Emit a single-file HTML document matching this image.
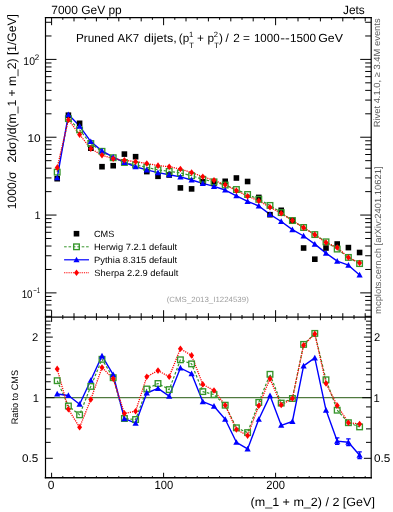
<!DOCTYPE html><html><head><meta charset="utf-8"><style>html,body{margin:0;padding:0;background:#fff;}svg{display:block;will-change:transform;}text{font-family:"Liberation Sans",sans-serif;text-rendering:geometricPrecision;}</style></head><body>
<svg width="393" height="512" viewBox="0 0 393 512">
<rect width="393" height="512" fill="#fff"/>
<defs><clipPath id="cm"><rect x="45.50" y="17.60" width="325.70" height="299.60"/></clipPath>
<clipPath id="cr"><rect x="45.50" y="317.20" width="325.70" height="160.55"/></clipPath></defs>
<polyline clip-path="url(#cm)" points="57.20,172.16 68.40,118.60 79.60,129.86 90.80,143.57 102.00,151.33 113.20,157.73 124.40,162.47 135.60,164.96 146.80,167.37 158.00,169.85 169.20,171.43 180.40,172.92 191.60,175.72 202.80,179.32 214.00,181.85 225.20,185.05 236.40,189.52 247.60,194.50 258.80,199.31 270.00,205.43 281.20,212.59 292.40,220.55 303.60,227.50 314.80,234.57 326.00,241.84 337.20,249.07 348.40,257.43 359.60,263.59" fill="none" stroke="#35952a" stroke-width="1.20" stroke-dasharray="2.6,1.8" stroke-linejoin="round"/>
<polyline clip-path="url(#cm)" points="57.20,177.78 68.40,114.57 79.60,126.11 90.80,141.54 102.00,150.97 113.20,157.13 124.40,162.31 135.60,166.73 146.80,169.94 158.00,172.65 169.20,174.69 180.40,176.86 191.60,179.96 202.80,183.32 214.00,186.39 225.20,190.03 236.40,195.77 247.60,201.45 258.80,205.98 270.00,214.34 281.20,221.49 292.40,229.60 303.60,236.00 314.80,244.11 326.00,253.10 337.20,261.19 348.40,265.17 359.60,274.92" fill="none" stroke="#0000ff" stroke-width="1.40" stroke-linejoin="round"/>
<polyline clip-path="url(#cm)" points="57.20,167.63 68.40,119.79 79.60,134.62 90.80,148.65 102.00,155.26 113.20,158.68 124.40,160.29 135.60,161.68 146.80,163.44 158.00,165.66 169.20,166.69 180.40,169.05 191.60,172.57 202.80,176.68 214.00,180.31 225.20,184.80 236.40,190.65 247.60,196.23 258.80,200.72 270.00,207.28 281.20,213.31 292.40,220.55 303.60,227.65 314.80,234.67 326.00,242.54 337.20,247.51 348.40,257.43 359.60,263.03" fill="none" stroke="#ff0000" stroke-width="1.30" stroke-dasharray="1.2,1.0" stroke-linejoin="round"/>
<rect x="54.40" y="175.90" width="5.60" height="5.60" fill="#000"/>
<rect x="65.60" y="112.40" width="5.60" height="5.60" fill="#000"/>
<rect x="76.80" y="120.50" width="5.60" height="5.60" fill="#000"/>
<rect x="88.00" y="145.40" width="5.60" height="5.60" fill="#000"/>
<rect x="99.20" y="163.90" width="5.60" height="5.60" fill="#000"/>
<rect x="110.40" y="162.90" width="5.60" height="5.60" fill="#000"/>
<rect x="121.60" y="151.30" width="5.60" height="5.60" fill="#000"/>
<rect x="132.80" y="153.90" width="5.60" height="5.60" fill="#000"/>
<rect x="144.00" y="168.80" width="5.60" height="5.60" fill="#000"/>
<rect x="155.20" y="173.50" width="5.60" height="5.60" fill="#000"/>
<rect x="166.40" y="172.20" width="5.60" height="5.60" fill="#000"/>
<rect x="177.60" y="185.10" width="5.60" height="5.60" fill="#000"/>
<rect x="188.80" y="186.10" width="5.60" height="5.60" fill="#000"/>
<rect x="200.00" y="179.00" width="5.60" height="5.60" fill="#000"/>
<rect x="211.20" y="180.30" width="5.60" height="5.60" fill="#000"/>
<rect x="222.40" y="178.50" width="5.60" height="5.60" fill="#000"/>
<rect x="233.60" y="175.20" width="5.60" height="5.60" fill="#000"/>
<rect x="244.80" y="178.70" width="5.60" height="5.60" fill="#000"/>
<rect x="256.00" y="194.60" width="5.60" height="5.60" fill="#000"/>
<rect x="267.20" y="211.90" width="5.60" height="5.60" fill="#000"/>
<rect x="278.40" y="207.50" width="5.60" height="5.60" fill="#000"/>
<rect x="289.60" y="217.60" width="5.60" height="5.60" fill="#000"/>
<rect x="300.80" y="245.20" width="5.60" height="5.60" fill="#000"/>
<rect x="312.00" y="256.40" width="5.60" height="5.60" fill="#000"/>
<rect x="323.20" y="245.20" width="5.60" height="5.60" fill="#000"/>
<rect x="334.40" y="241.20" width="5.60" height="5.60" fill="#000"/>
<rect x="345.60" y="244.80" width="5.60" height="5.60" fill="#000"/>
<rect x="356.80" y="249.70" width="5.60" height="5.60" fill="#000"/>
<rect x="54.40" y="169.36" width="5.60" height="5.60" fill="none" stroke="#35952a" stroke-width="1.35"/>
<rect x="65.60" y="115.80" width="5.60" height="5.60" fill="none" stroke="#35952a" stroke-width="1.35"/>
<rect x="76.80" y="127.06" width="5.60" height="5.60" fill="none" stroke="#35952a" stroke-width="1.35"/>
<rect x="88.00" y="140.77" width="5.60" height="5.60" fill="none" stroke="#35952a" stroke-width="1.35"/>
<rect x="99.20" y="148.53" width="5.60" height="5.60" fill="none" stroke="#35952a" stroke-width="1.35"/>
<rect x="110.40" y="154.93" width="5.60" height="5.60" fill="none" stroke="#35952a" stroke-width="1.35"/>
<rect x="121.60" y="159.67" width="5.60" height="5.60" fill="none" stroke="#35952a" stroke-width="1.35"/>
<rect x="132.80" y="162.16" width="5.60" height="5.60" fill="none" stroke="#35952a" stroke-width="1.35"/>
<rect x="144.00" y="164.57" width="5.60" height="5.60" fill="none" stroke="#35952a" stroke-width="1.35"/>
<rect x="155.20" y="167.05" width="5.60" height="5.60" fill="none" stroke="#35952a" stroke-width="1.35"/>
<rect x="166.40" y="168.63" width="5.60" height="5.60" fill="none" stroke="#35952a" stroke-width="1.35"/>
<rect x="177.60" y="170.12" width="5.60" height="5.60" fill="none" stroke="#35952a" stroke-width="1.35"/>
<rect x="188.80" y="172.92" width="5.60" height="5.60" fill="none" stroke="#35952a" stroke-width="1.35"/>
<rect x="200.00" y="176.52" width="5.60" height="5.60" fill="none" stroke="#35952a" stroke-width="1.35"/>
<rect x="211.20" y="179.05" width="5.60" height="5.60" fill="none" stroke="#35952a" stroke-width="1.35"/>
<rect x="222.40" y="182.25" width="5.60" height="5.60" fill="none" stroke="#35952a" stroke-width="1.35"/>
<rect x="233.60" y="186.72" width="5.60" height="5.60" fill="none" stroke="#35952a" stroke-width="1.35"/>
<rect x="244.80" y="191.70" width="5.60" height="5.60" fill="none" stroke="#35952a" stroke-width="1.35"/>
<rect x="256.00" y="196.51" width="5.60" height="5.60" fill="none" stroke="#35952a" stroke-width="1.35"/>
<rect x="267.20" y="202.63" width="5.60" height="5.60" fill="none" stroke="#35952a" stroke-width="1.35"/>
<rect x="278.40" y="209.79" width="5.60" height="5.60" fill="none" stroke="#35952a" stroke-width="1.35"/>
<rect x="289.60" y="217.75" width="5.60" height="5.60" fill="none" stroke="#35952a" stroke-width="1.35"/>
<rect x="300.80" y="224.70" width="5.60" height="5.60" fill="none" stroke="#35952a" stroke-width="1.35"/>
<rect x="312.00" y="231.77" width="5.60" height="5.60" fill="none" stroke="#35952a" stroke-width="1.35"/>
<rect x="323.20" y="239.04" width="5.60" height="5.60" fill="none" stroke="#35952a" stroke-width="1.35"/>
<rect x="334.40" y="246.27" width="5.60" height="5.60" fill="none" stroke="#35952a" stroke-width="1.35"/>
<rect x="345.60" y="254.63" width="5.60" height="5.60" fill="none" stroke="#35952a" stroke-width="1.35"/>
<rect x="356.80" y="260.79" width="5.60" height="5.60" fill="none" stroke="#35952a" stroke-width="1.35"/>
<path d="M57.20 174.65L60.30 180.35L54.10 180.35Z" fill="#0000ff"/>
<path d="M68.40 111.44L71.50 117.14L65.30 117.14Z" fill="#0000ff"/>
<path d="M79.60 122.97L82.70 128.67L76.50 128.67Z" fill="#0000ff"/>
<path d="M90.80 138.40L93.90 144.10L87.70 144.10Z" fill="#0000ff"/>
<path d="M102.00 147.83L105.10 153.54L98.90 153.54Z" fill="#0000ff"/>
<path d="M113.20 154.00L116.30 159.70L110.10 159.70Z" fill="#0000ff"/>
<path d="M124.40 159.17L127.50 164.88L121.30 164.88Z" fill="#0000ff"/>
<path d="M135.60 163.59L138.70 169.30L132.50 169.30Z" fill="#0000ff"/>
<path d="M146.80 166.80L149.90 172.51L143.70 172.51Z" fill="#0000ff"/>
<path d="M158.00 169.51L161.10 175.22L154.90 175.22Z" fill="#0000ff"/>
<path d="M169.20 171.55L172.30 177.26L166.10 177.26Z" fill="#0000ff"/>
<path d="M180.40 173.72L183.50 179.43L177.30 179.43Z" fill="#0000ff"/>
<path d="M191.60 176.82L194.70 182.53L188.50 182.53Z" fill="#0000ff"/>
<path d="M202.80 180.19L205.90 185.89L199.70 185.89Z" fill="#0000ff"/>
<path d="M214.00 183.26L217.10 188.96L210.90 188.96Z" fill="#0000ff"/>
<path d="M225.20 186.89L228.30 192.59L222.10 192.59Z" fill="#0000ff"/>
<path d="M236.40 192.63L239.50 198.34L233.30 198.34Z" fill="#0000ff"/>
<path d="M247.60 198.31L250.70 204.01L244.50 204.01Z" fill="#0000ff"/>
<path d="M258.80 202.84L261.90 208.54L255.70 208.54Z" fill="#0000ff"/>
<path d="M270.00 211.21L273.10 216.91L266.90 216.91Z" fill="#0000ff"/>
<path d="M281.20 218.35L284.30 224.05L278.10 224.05Z" fill="#0000ff"/>
<path d="M292.40 226.46L295.50 232.17L289.30 232.17Z" fill="#0000ff"/>
<path d="M303.60 232.87L306.70 238.57L300.50 238.57Z" fill="#0000ff"/>
<path d="M314.80 240.97L317.90 246.67L311.70 246.67Z" fill="#0000ff"/>
<path d="M326.00 249.96L329.10 255.66L322.90 255.66Z" fill="#0000ff"/>
<path d="M337.20 258.05L340.30 263.76L334.10 263.76Z" fill="#0000ff"/>
<path d="M348.40 262.03L351.50 267.74L345.30 267.74Z" fill="#0000ff"/>
<path d="M359.60 271.78L362.70 277.48L356.50 277.48Z" fill="#0000ff"/>
<path d="M57.20 164.33L59.70 167.63L57.20 170.93L54.70 167.63Z" fill="#ff0000"/>
<path d="M68.40 116.49L70.90 119.79L68.40 123.09L65.90 119.79Z" fill="#ff0000"/>
<path d="M79.60 131.32L82.10 134.62L79.60 137.92L77.10 134.62Z" fill="#ff0000"/>
<path d="M90.80 145.35L93.30 148.65L90.80 151.95L88.30 148.65Z" fill="#ff0000"/>
<path d="M102.00 151.96L104.50 155.26L102.00 158.56L99.50 155.26Z" fill="#ff0000"/>
<path d="M113.20 155.38L115.70 158.68L113.20 161.98L110.70 158.68Z" fill="#ff0000"/>
<path d="M124.40 156.99L126.90 160.29L124.40 163.59L121.90 160.29Z" fill="#ff0000"/>
<path d="M135.60 158.38L138.10 161.68L135.60 164.98L133.10 161.68Z" fill="#ff0000"/>
<path d="M146.80 160.14L149.30 163.44L146.80 166.74L144.30 163.44Z" fill="#ff0000"/>
<path d="M158.00 162.36L160.50 165.66L158.00 168.96L155.50 165.66Z" fill="#ff0000"/>
<path d="M169.20 163.39L171.70 166.69L169.20 169.99L166.70 166.69Z" fill="#ff0000"/>
<path d="M180.40 165.75L182.90 169.05L180.40 172.35L177.90 169.05Z" fill="#ff0000"/>
<path d="M191.60 169.27L194.10 172.57L191.60 175.87L189.10 172.57Z" fill="#ff0000"/>
<path d="M202.80 173.38L205.30 176.68L202.80 179.98L200.30 176.68Z" fill="#ff0000"/>
<path d="M214.00 177.01L216.50 180.31L214.00 183.61L211.50 180.31Z" fill="#ff0000"/>
<path d="M225.20 181.50L227.70 184.80L225.20 188.10L222.70 184.80Z" fill="#ff0000"/>
<path d="M236.40 187.35L238.90 190.65L236.40 193.95L233.90 190.65Z" fill="#ff0000"/>
<path d="M247.60 192.93L250.10 196.23L247.60 199.53L245.10 196.23Z" fill="#ff0000"/>
<path d="M258.80 197.42L261.30 200.72L258.80 204.02L256.30 200.72Z" fill="#ff0000"/>
<path d="M270.00 203.98L272.50 207.28L270.00 210.58L267.50 207.28Z" fill="#ff0000"/>
<path d="M281.20 210.01L283.70 213.31L281.20 216.61L278.70 213.31Z" fill="#ff0000"/>
<path d="M292.40 217.25L294.90 220.55L292.40 223.85L289.90 220.55Z" fill="#ff0000"/>
<path d="M303.60 224.35L306.10 227.65L303.60 230.95L301.10 227.65Z" fill="#ff0000"/>
<path d="M314.80 231.37L317.30 234.67L314.80 237.97L312.30 234.67Z" fill="#ff0000"/>
<path d="M326.00 239.24L328.50 242.54L326.00 245.84L323.50 242.54Z" fill="#ff0000"/>
<path d="M337.20 244.21L339.70 247.51L337.20 250.81L334.70 247.51Z" fill="#ff0000"/>
<path d="M348.40 254.13L350.90 257.43L348.40 260.73L345.90 257.43Z" fill="#ff0000"/>
<path d="M359.60 259.73L362.10 263.03L359.60 266.33L357.10 263.03Z" fill="#ff0000"/>
<line x1="45.50" y1="397.70" x2="371.20" y2="397.70" stroke="#4f7a3f" stroke-width="1.3"/>
<polyline clip-path="url(#cr)" points="57.20,380.70 68.40,406.00 79.60,414.80 90.80,386.40 102.00,359.30 113.20,377.70 124.40,418.50 135.60,419.50 146.80,389.00 158.00,383.50 169.20,389.60 180.40,359.80 191.60,363.90 202.80,391.60 214.00,394.60 225.20,405.20 236.40,427.80 247.60,432.60 258.80,402.40 270.00,374.30 281.20,403.10 292.40,398.50 303.60,344.40 314.80,333.40 326.00,379.80 337.20,410.20 348.40,422.70 359.60,426.90" fill="none" stroke="#35952a" stroke-width="1.20" stroke-dasharray="2.6,1.8" stroke-linejoin="round"/>
<polyline clip-path="url(#cr)" points="57.20,394.00 68.40,395.50 79.60,404.20 90.80,380.30 102.00,355.90 113.20,374.60 124.40,418.70 135.60,423.20 146.80,393.00 158.00,388.40 169.20,396.10 180.40,368.00 191.60,373.70 202.80,401.70 214.00,406.20 225.20,419.30 236.40,442.30 247.60,448.90 258.80,419.30 270.00,395.60 281.20,425.30 292.40,421.50 303.60,365.90 314.80,357.90 326.00,410.10 337.20,441.10 348.40,442.30 359.60,455.20" fill="none" stroke="#0000ff" stroke-width="1.40" stroke-linejoin="round"/>
<polyline clip-path="url(#cr)" points="57.20,368.90 68.40,409.30 79.60,427.30 90.80,399.50 102.00,367.50 113.20,378.70 124.40,413.40 135.60,411.30 146.80,376.70 158.00,370.60 169.20,376.70 180.40,348.80 191.60,355.40 202.80,384.40 214.00,390.50 225.20,405.20 236.40,429.50 247.60,435.60 258.80,405.80 270.00,378.70 281.20,405.00 292.40,398.50 303.60,345.20 314.80,333.90 326.00,383.40 337.20,405.50 348.40,422.70 359.60,424.00" fill="none" stroke="#ff0000" stroke-width="1.30" stroke-dasharray="1.2,1.0" stroke-linejoin="round"/>
<rect x="54.40" y="377.90" width="5.60" height="5.60" fill="none" stroke="#35952a" stroke-width="1.35"/>
<rect x="65.60" y="403.20" width="5.60" height="5.60" fill="none" stroke="#35952a" stroke-width="1.35"/>
<rect x="76.80" y="412.00" width="5.60" height="5.60" fill="none" stroke="#35952a" stroke-width="1.35"/>
<rect x="88.00" y="383.60" width="5.60" height="5.60" fill="none" stroke="#35952a" stroke-width="1.35"/>
<rect x="99.20" y="356.50" width="5.60" height="5.60" fill="none" stroke="#35952a" stroke-width="1.35"/>
<rect x="110.40" y="374.90" width="5.60" height="5.60" fill="none" stroke="#35952a" stroke-width="1.35"/>
<rect x="121.60" y="415.70" width="5.60" height="5.60" fill="none" stroke="#35952a" stroke-width="1.35"/>
<rect x="132.80" y="416.70" width="5.60" height="5.60" fill="none" stroke="#35952a" stroke-width="1.35"/>
<rect x="144.00" y="386.20" width="5.60" height="5.60" fill="none" stroke="#35952a" stroke-width="1.35"/>
<rect x="155.20" y="380.70" width="5.60" height="5.60" fill="none" stroke="#35952a" stroke-width="1.35"/>
<rect x="166.40" y="386.80" width="5.60" height="5.60" fill="none" stroke="#35952a" stroke-width="1.35"/>
<rect x="177.60" y="357.00" width="5.60" height="5.60" fill="none" stroke="#35952a" stroke-width="1.35"/>
<rect x="188.80" y="361.10" width="5.60" height="5.60" fill="none" stroke="#35952a" stroke-width="1.35"/>
<rect x="200.00" y="388.80" width="5.60" height="5.60" fill="none" stroke="#35952a" stroke-width="1.35"/>
<rect x="211.20" y="391.80" width="5.60" height="5.60" fill="none" stroke="#35952a" stroke-width="1.35"/>
<rect x="222.40" y="402.40" width="5.60" height="5.60" fill="none" stroke="#35952a" stroke-width="1.35"/>
<rect x="233.60" y="425.00" width="5.60" height="5.60" fill="none" stroke="#35952a" stroke-width="1.35"/>
<rect x="244.80" y="429.80" width="5.60" height="5.60" fill="none" stroke="#35952a" stroke-width="1.35"/>
<rect x="256.00" y="399.60" width="5.60" height="5.60" fill="none" stroke="#35952a" stroke-width="1.35"/>
<rect x="267.20" y="371.50" width="5.60" height="5.60" fill="none" stroke="#35952a" stroke-width="1.35"/>
<rect x="278.40" y="400.30" width="5.60" height="5.60" fill="none" stroke="#35952a" stroke-width="1.35"/>
<rect x="289.60" y="395.70" width="5.60" height="5.60" fill="none" stroke="#35952a" stroke-width="1.35"/>
<rect x="300.80" y="341.60" width="5.60" height="5.60" fill="none" stroke="#35952a" stroke-width="1.35"/>
<rect x="312.00" y="330.60" width="5.60" height="5.60" fill="none" stroke="#35952a" stroke-width="1.35"/>
<rect x="323.20" y="377.00" width="5.60" height="5.60" fill="none" stroke="#35952a" stroke-width="1.35"/>
<rect x="334.40" y="407.40" width="5.60" height="5.60" fill="none" stroke="#35952a" stroke-width="1.35"/>
<rect x="345.60" y="419.90" width="5.60" height="5.60" fill="none" stroke="#35952a" stroke-width="1.35"/>
<rect x="356.80" y="424.10" width="5.60" height="5.60" fill="none" stroke="#35952a" stroke-width="1.35"/>
<path d="M57.20 390.86L60.30 396.57L54.10 396.57Z" fill="#0000ff"/>
<path d="M68.40 392.36L71.50 398.07L65.30 398.07Z" fill="#0000ff"/>
<path d="M79.60 401.06L82.70 406.77L76.50 406.77Z" fill="#0000ff"/>
<path d="M90.80 377.16L93.90 382.87L87.70 382.87Z" fill="#0000ff"/>
<path d="M102.00 352.76L105.10 358.47L98.90 358.47Z" fill="#0000ff"/>
<path d="M113.20 371.46L116.30 377.17L110.10 377.17Z" fill="#0000ff"/>
<path d="M124.40 415.56L127.50 421.27L121.30 421.27Z" fill="#0000ff"/>
<path d="M135.60 420.06L138.70 425.77L132.50 425.77Z" fill="#0000ff"/>
<path d="M146.80 389.86L149.90 395.57L143.70 395.57Z" fill="#0000ff"/>
<path d="M158.00 385.26L161.10 390.97L154.90 390.97Z" fill="#0000ff"/>
<path d="M169.20 392.96L172.30 398.67L166.10 398.67Z" fill="#0000ff"/>
<path d="M180.40 364.86L183.50 370.57L177.30 370.57Z" fill="#0000ff"/>
<path d="M191.60 370.56L194.70 376.27L188.50 376.27Z" fill="#0000ff"/>
<path d="M202.80 398.56L205.90 404.27L199.70 404.27Z" fill="#0000ff"/>
<path d="M214.00 403.06L217.10 408.77L210.90 408.77Z" fill="#0000ff"/>
<path d="M225.20 416.16L228.30 421.87L222.10 421.87Z" fill="#0000ff"/>
<path d="M236.40 439.16L239.50 444.87L233.30 444.87Z" fill="#0000ff"/>
<path d="M247.60 445.76L250.70 451.47L244.50 451.47Z" fill="#0000ff"/>
<path d="M258.80 416.16L261.90 421.87L255.70 421.87Z" fill="#0000ff"/>
<path d="M270.00 392.46L273.10 398.17L266.90 398.17Z" fill="#0000ff"/>
<path d="M281.20 422.16L284.30 427.87L278.10 427.87Z" fill="#0000ff"/>
<path d="M292.40 418.36L295.50 424.07L289.30 424.07Z" fill="#0000ff"/>
<path d="M303.60 362.76L306.70 368.47L300.50 368.47Z" fill="#0000ff"/>
<path d="M314.80 354.76L317.90 360.47L311.70 360.47Z" fill="#0000ff"/>
<path d="M326.00 406.96L329.10 412.67L322.90 412.67Z" fill="#0000ff"/>
<path d="M337.20 437.90V444.30M335.00 437.90H339.40M335.00 444.30H339.40" stroke="#0000ff" stroke-width="1.2" fill="none"/>
<path d="M337.20 437.96L340.30 443.67L334.10 443.67Z" fill="#0000ff"/>
<path d="M348.40 438.90V445.70M346.20 438.90H350.60M346.20 445.70H350.60" stroke="#0000ff" stroke-width="1.2" fill="none"/>
<path d="M348.40 439.16L351.50 444.87L345.30 444.87Z" fill="#0000ff"/>
<path d="M359.60 451.80V458.60M357.40 451.80H361.80M357.40 458.60H361.80" stroke="#0000ff" stroke-width="1.2" fill="none"/>
<path d="M359.60 452.06L362.70 457.77L356.50 457.77Z" fill="#0000ff"/>
<path d="M57.20 365.60L59.70 368.90L57.20 372.20L54.70 368.90Z" fill="#ff0000"/>
<path d="M68.40 406.00L70.90 409.30L68.40 412.60L65.90 409.30Z" fill="#ff0000"/>
<path d="M79.60 424.00L82.10 427.30L79.60 430.60L77.10 427.30Z" fill="#ff0000"/>
<path d="M90.80 396.20L93.30 399.50L90.80 402.80L88.30 399.50Z" fill="#ff0000"/>
<path d="M102.00 364.20L104.50 367.50L102.00 370.80L99.50 367.50Z" fill="#ff0000"/>
<path d="M113.20 375.40L115.70 378.70L113.20 382.00L110.70 378.70Z" fill="#ff0000"/>
<path d="M124.40 410.10L126.90 413.40L124.40 416.70L121.90 413.40Z" fill="#ff0000"/>
<path d="M135.60 408.00L138.10 411.30L135.60 414.60L133.10 411.30Z" fill="#ff0000"/>
<path d="M146.80 373.40L149.30 376.70L146.80 380.00L144.30 376.70Z" fill="#ff0000"/>
<path d="M158.00 367.30L160.50 370.60L158.00 373.90L155.50 370.60Z" fill="#ff0000"/>
<path d="M169.20 373.40L171.70 376.70L169.20 380.00L166.70 376.70Z" fill="#ff0000"/>
<path d="M180.40 345.50L182.90 348.80L180.40 352.10L177.90 348.80Z" fill="#ff0000"/>
<path d="M191.60 352.10L194.10 355.40L191.60 358.70L189.10 355.40Z" fill="#ff0000"/>
<path d="M202.80 381.10L205.30 384.40L202.80 387.70L200.30 384.40Z" fill="#ff0000"/>
<path d="M214.00 387.20L216.50 390.50L214.00 393.80L211.50 390.50Z" fill="#ff0000"/>
<path d="M225.20 401.90L227.70 405.20L225.20 408.50L222.70 405.20Z" fill="#ff0000"/>
<path d="M236.40 426.20L238.90 429.50L236.40 432.80L233.90 429.50Z" fill="#ff0000"/>
<path d="M247.60 432.30L250.10 435.60L247.60 438.90L245.10 435.60Z" fill="#ff0000"/>
<path d="M258.80 402.50L261.30 405.80L258.80 409.10L256.30 405.80Z" fill="#ff0000"/>
<path d="M270.00 375.40L272.50 378.70L270.00 382.00L267.50 378.70Z" fill="#ff0000"/>
<path d="M281.20 401.70L283.70 405.00L281.20 408.30L278.70 405.00Z" fill="#ff0000"/>
<path d="M292.40 395.20L294.90 398.50L292.40 401.80L289.90 398.50Z" fill="#ff0000"/>
<path d="M303.60 341.90L306.10 345.20L303.60 348.50L301.10 345.20Z" fill="#ff0000"/>
<path d="M314.80 330.60L317.30 333.90L314.80 337.20L312.30 333.90Z" fill="#ff0000"/>
<path d="M326.00 380.10L328.50 383.40L326.00 386.70L323.50 383.40Z" fill="#ff0000"/>
<path d="M337.20 402.20L339.70 405.50L337.20 408.80L334.70 405.50Z" fill="#ff0000"/>
<path d="M348.40 419.40L350.90 422.70L348.40 426.00L345.90 422.70Z" fill="#ff0000"/>
<path d="M359.60 420.70L362.10 424.00L359.60 427.30L357.10 424.00Z" fill="#ff0000"/>
<line x1="45.50" y1="316.32" x2="51.50" y2="316.32" stroke="#000" stroke-width="1.00"/>
<line x1="371.20" y1="316.32" x2="365.20" y2="316.32" stroke="#000" stroke-width="1.00"/>
<line x1="45.50" y1="310.16" x2="51.50" y2="310.16" stroke="#000" stroke-width="1.00"/>
<line x1="371.20" y1="310.16" x2="365.20" y2="310.16" stroke="#000" stroke-width="1.00"/>
<line x1="45.50" y1="304.95" x2="51.50" y2="304.95" stroke="#000" stroke-width="1.00"/>
<line x1="371.20" y1="304.95" x2="365.20" y2="304.95" stroke="#000" stroke-width="1.00"/>
<line x1="45.50" y1="300.43" x2="51.50" y2="300.43" stroke="#000" stroke-width="1.00"/>
<line x1="371.20" y1="300.43" x2="365.20" y2="300.43" stroke="#000" stroke-width="1.00"/>
<line x1="45.50" y1="296.45" x2="51.50" y2="296.45" stroke="#000" stroke-width="1.00"/>
<line x1="371.20" y1="296.45" x2="365.20" y2="296.45" stroke="#000" stroke-width="1.00"/>
<line x1="45.50" y1="292.89" x2="56.50" y2="292.89" stroke="#000" stroke-width="1.00"/>
<line x1="371.20" y1="292.89" x2="360.20" y2="292.89" stroke="#000" stroke-width="1.00"/>
<line x1="45.50" y1="269.46" x2="51.50" y2="269.46" stroke="#000" stroke-width="1.00"/>
<line x1="371.20" y1="269.46" x2="365.20" y2="269.46" stroke="#000" stroke-width="1.00"/>
<line x1="45.50" y1="255.76" x2="51.50" y2="255.76" stroke="#000" stroke-width="1.00"/>
<line x1="371.20" y1="255.76" x2="365.20" y2="255.76" stroke="#000" stroke-width="1.00"/>
<line x1="45.50" y1="246.03" x2="51.50" y2="246.03" stroke="#000" stroke-width="1.00"/>
<line x1="371.20" y1="246.03" x2="365.20" y2="246.03" stroke="#000" stroke-width="1.00"/>
<line x1="45.50" y1="238.49" x2="51.50" y2="238.49" stroke="#000" stroke-width="1.00"/>
<line x1="371.20" y1="238.49" x2="365.20" y2="238.49" stroke="#000" stroke-width="1.00"/>
<line x1="45.50" y1="232.33" x2="51.50" y2="232.33" stroke="#000" stroke-width="1.00"/>
<line x1="371.20" y1="232.33" x2="365.20" y2="232.33" stroke="#000" stroke-width="1.00"/>
<line x1="45.50" y1="227.12" x2="51.50" y2="227.12" stroke="#000" stroke-width="1.00"/>
<line x1="371.20" y1="227.12" x2="365.20" y2="227.12" stroke="#000" stroke-width="1.00"/>
<line x1="45.50" y1="222.60" x2="51.50" y2="222.60" stroke="#000" stroke-width="1.00"/>
<line x1="371.20" y1="222.60" x2="365.20" y2="222.60" stroke="#000" stroke-width="1.00"/>
<line x1="45.50" y1="218.62" x2="51.50" y2="218.62" stroke="#000" stroke-width="1.00"/>
<line x1="371.20" y1="218.62" x2="365.20" y2="218.62" stroke="#000" stroke-width="1.00"/>
<line x1="45.50" y1="215.06" x2="56.50" y2="215.06" stroke="#000" stroke-width="1.00"/>
<line x1="371.20" y1="215.06" x2="360.20" y2="215.06" stroke="#000" stroke-width="1.00"/>
<line x1="45.50" y1="191.63" x2="51.50" y2="191.63" stroke="#000" stroke-width="1.00"/>
<line x1="371.20" y1="191.63" x2="365.20" y2="191.63" stroke="#000" stroke-width="1.00"/>
<line x1="45.50" y1="177.93" x2="51.50" y2="177.93" stroke="#000" stroke-width="1.00"/>
<line x1="371.20" y1="177.93" x2="365.20" y2="177.93" stroke="#000" stroke-width="1.00"/>
<line x1="45.50" y1="168.20" x2="51.50" y2="168.20" stroke="#000" stroke-width="1.00"/>
<line x1="371.20" y1="168.20" x2="365.20" y2="168.20" stroke="#000" stroke-width="1.00"/>
<line x1="45.50" y1="160.66" x2="51.50" y2="160.66" stroke="#000" stroke-width="1.00"/>
<line x1="371.20" y1="160.66" x2="365.20" y2="160.66" stroke="#000" stroke-width="1.00"/>
<line x1="45.50" y1="154.50" x2="51.50" y2="154.50" stroke="#000" stroke-width="1.00"/>
<line x1="371.20" y1="154.50" x2="365.20" y2="154.50" stroke="#000" stroke-width="1.00"/>
<line x1="45.50" y1="149.29" x2="51.50" y2="149.29" stroke="#000" stroke-width="1.00"/>
<line x1="371.20" y1="149.29" x2="365.20" y2="149.29" stroke="#000" stroke-width="1.00"/>
<line x1="45.50" y1="144.77" x2="51.50" y2="144.77" stroke="#000" stroke-width="1.00"/>
<line x1="371.20" y1="144.77" x2="365.20" y2="144.77" stroke="#000" stroke-width="1.00"/>
<line x1="45.50" y1="140.79" x2="51.50" y2="140.79" stroke="#000" stroke-width="1.00"/>
<line x1="371.20" y1="140.79" x2="365.20" y2="140.79" stroke="#000" stroke-width="1.00"/>
<line x1="45.50" y1="137.23" x2="56.50" y2="137.23" stroke="#000" stroke-width="1.00"/>
<line x1="371.20" y1="137.23" x2="360.20" y2="137.23" stroke="#000" stroke-width="1.00"/>
<line x1="45.50" y1="113.80" x2="51.50" y2="113.80" stroke="#000" stroke-width="1.00"/>
<line x1="371.20" y1="113.80" x2="365.20" y2="113.80" stroke="#000" stroke-width="1.00"/>
<line x1="45.50" y1="100.10" x2="51.50" y2="100.10" stroke="#000" stroke-width="1.00"/>
<line x1="371.20" y1="100.10" x2="365.20" y2="100.10" stroke="#000" stroke-width="1.00"/>
<line x1="45.50" y1="90.37" x2="51.50" y2="90.37" stroke="#000" stroke-width="1.00"/>
<line x1="371.20" y1="90.37" x2="365.20" y2="90.37" stroke="#000" stroke-width="1.00"/>
<line x1="45.50" y1="82.83" x2="51.50" y2="82.83" stroke="#000" stroke-width="1.00"/>
<line x1="371.20" y1="82.83" x2="365.20" y2="82.83" stroke="#000" stroke-width="1.00"/>
<line x1="45.50" y1="76.67" x2="51.50" y2="76.67" stroke="#000" stroke-width="1.00"/>
<line x1="371.20" y1="76.67" x2="365.20" y2="76.67" stroke="#000" stroke-width="1.00"/>
<line x1="45.50" y1="71.46" x2="51.50" y2="71.46" stroke="#000" stroke-width="1.00"/>
<line x1="371.20" y1="71.46" x2="365.20" y2="71.46" stroke="#000" stroke-width="1.00"/>
<line x1="45.50" y1="66.94" x2="51.50" y2="66.94" stroke="#000" stroke-width="1.00"/>
<line x1="371.20" y1="66.94" x2="365.20" y2="66.94" stroke="#000" stroke-width="1.00"/>
<line x1="45.50" y1="62.96" x2="51.50" y2="62.96" stroke="#000" stroke-width="1.00"/>
<line x1="371.20" y1="62.96" x2="365.20" y2="62.96" stroke="#000" stroke-width="1.00"/>
<line x1="45.50" y1="59.40" x2="56.50" y2="59.40" stroke="#000" stroke-width="1.00"/>
<line x1="371.20" y1="59.40" x2="360.20" y2="59.40" stroke="#000" stroke-width="1.00"/>
<line x1="45.50" y1="35.97" x2="51.50" y2="35.97" stroke="#000" stroke-width="1.00"/>
<line x1="371.20" y1="35.97" x2="365.20" y2="35.97" stroke="#000" stroke-width="1.00"/>
<line x1="45.50" y1="22.27" x2="51.50" y2="22.27" stroke="#000" stroke-width="1.00"/>
<line x1="371.20" y1="22.27" x2="365.20" y2="22.27" stroke="#000" stroke-width="1.00"/>
<line x1="45.50" y1="458.30" x2="52.80" y2="458.30" stroke="#000" stroke-width="1.00"/>
<line x1="371.20" y1="458.30" x2="363.90" y2="458.30" stroke="#000" stroke-width="1.00"/>
<line x1="45.50" y1="442.36" x2="50.70" y2="442.36" stroke="#000" stroke-width="1.00"/>
<line x1="371.20" y1="442.36" x2="366.00" y2="442.36" stroke="#000" stroke-width="1.00"/>
<line x1="45.50" y1="428.88" x2="50.70" y2="428.88" stroke="#000" stroke-width="1.00"/>
<line x1="371.20" y1="428.88" x2="366.00" y2="428.88" stroke="#000" stroke-width="1.00"/>
<line x1="45.50" y1="417.21" x2="50.70" y2="417.21" stroke="#000" stroke-width="1.00"/>
<line x1="371.20" y1="417.21" x2="366.00" y2="417.21" stroke="#000" stroke-width="1.00"/>
<line x1="45.50" y1="406.91" x2="50.70" y2="406.91" stroke="#000" stroke-width="1.00"/>
<line x1="371.20" y1="406.91" x2="366.00" y2="406.91" stroke="#000" stroke-width="1.00"/>
<line x1="45.50" y1="397.70" x2="54.50" y2="397.70" stroke="#000" stroke-width="1.00"/>
<line x1="371.20" y1="397.70" x2="362.20" y2="397.70" stroke="#000" stroke-width="1.00"/>
<line x1="45.50" y1="389.37" x2="50.70" y2="389.37" stroke="#000" stroke-width="1.00"/>
<line x1="371.20" y1="389.37" x2="366.00" y2="389.37" stroke="#000" stroke-width="1.00"/>
<line x1="45.50" y1="381.76" x2="50.70" y2="381.76" stroke="#000" stroke-width="1.00"/>
<line x1="371.20" y1="381.76" x2="366.00" y2="381.76" stroke="#000" stroke-width="1.00"/>
<line x1="45.50" y1="374.76" x2="50.70" y2="374.76" stroke="#000" stroke-width="1.00"/>
<line x1="371.20" y1="374.76" x2="366.00" y2="374.76" stroke="#000" stroke-width="1.00"/>
<line x1="45.50" y1="368.28" x2="50.70" y2="368.28" stroke="#000" stroke-width="1.00"/>
<line x1="371.20" y1="368.28" x2="366.00" y2="368.28" stroke="#000" stroke-width="1.00"/>
<line x1="45.50" y1="362.25" x2="50.70" y2="362.25" stroke="#000" stroke-width="1.00"/>
<line x1="371.20" y1="362.25" x2="366.00" y2="362.25" stroke="#000" stroke-width="1.00"/>
<line x1="45.50" y1="356.61" x2="50.70" y2="356.61" stroke="#000" stroke-width="1.00"/>
<line x1="371.20" y1="356.61" x2="366.00" y2="356.61" stroke="#000" stroke-width="1.00"/>
<line x1="45.50" y1="351.31" x2="50.70" y2="351.31" stroke="#000" stroke-width="1.00"/>
<line x1="371.20" y1="351.31" x2="366.00" y2="351.31" stroke="#000" stroke-width="1.00"/>
<line x1="45.50" y1="346.31" x2="50.70" y2="346.31" stroke="#000" stroke-width="1.00"/>
<line x1="371.20" y1="346.31" x2="366.00" y2="346.31" stroke="#000" stroke-width="1.00"/>
<line x1="45.50" y1="341.59" x2="50.70" y2="341.59" stroke="#000" stroke-width="1.00"/>
<line x1="371.20" y1="341.59" x2="366.00" y2="341.59" stroke="#000" stroke-width="1.00"/>
<line x1="45.50" y1="337.10" x2="52.80" y2="337.10" stroke="#000" stroke-width="1.00"/>
<line x1="371.20" y1="337.10" x2="363.90" y2="337.10" stroke="#000" stroke-width="1.00"/>
<line x1="45.50" y1="332.84" x2="50.70" y2="332.84" stroke="#000" stroke-width="1.00"/>
<line x1="371.20" y1="332.84" x2="366.00" y2="332.84" stroke="#000" stroke-width="1.00"/>
<line x1="45.50" y1="328.77" x2="50.70" y2="328.77" stroke="#000" stroke-width="1.00"/>
<line x1="371.20" y1="328.77" x2="366.00" y2="328.77" stroke="#000" stroke-width="1.00"/>
<line x1="45.50" y1="324.88" x2="50.70" y2="324.88" stroke="#000" stroke-width="1.00"/>
<line x1="371.20" y1="324.88" x2="366.00" y2="324.88" stroke="#000" stroke-width="1.00"/>
<line x1="45.50" y1="321.16" x2="50.70" y2="321.16" stroke="#000" stroke-width="1.00"/>
<line x1="371.20" y1="321.16" x2="366.00" y2="321.16" stroke="#000" stroke-width="1.00"/>
<line x1="51.60" y1="17.60" x2="51.60" y2="25.20" stroke="#000" stroke-width="1.00"/>
<line x1="51.60" y1="317.20" x2="51.60" y2="310.20" stroke="#000" stroke-width="1.00"/>
<line x1="51.60" y1="317.20" x2="51.60" y2="321.90" stroke="#000" stroke-width="1.00"/>
<line x1="51.60" y1="477.75" x2="51.60" y2="472.75" stroke="#000" stroke-width="1.00"/>
<line x1="62.80" y1="17.60" x2="62.80" y2="19.80" stroke="#000" stroke-width="1.00"/>
<line x1="62.80" y1="317.20" x2="62.80" y2="315.00" stroke="#000" stroke-width="1.00"/>
<line x1="62.80" y1="317.20" x2="62.80" y2="319.20" stroke="#000" stroke-width="1.00"/>
<line x1="62.80" y1="477.75" x2="62.80" y2="476.15" stroke="#000" stroke-width="1.00"/>
<line x1="74.00" y1="17.60" x2="74.00" y2="21.40" stroke="#000" stroke-width="1.00"/>
<line x1="74.00" y1="317.20" x2="74.00" y2="313.20" stroke="#000" stroke-width="1.00"/>
<line x1="74.00" y1="317.20" x2="74.00" y2="320.20" stroke="#000" stroke-width="1.00"/>
<line x1="74.00" y1="477.75" x2="74.00" y2="476.15" stroke="#000" stroke-width="1.00"/>
<line x1="85.20" y1="17.60" x2="85.20" y2="19.80" stroke="#000" stroke-width="1.00"/>
<line x1="85.20" y1="317.20" x2="85.20" y2="315.00" stroke="#000" stroke-width="1.00"/>
<line x1="85.20" y1="317.20" x2="85.20" y2="319.20" stroke="#000" stroke-width="1.00"/>
<line x1="85.20" y1="477.75" x2="85.20" y2="476.15" stroke="#000" stroke-width="1.00"/>
<line x1="96.40" y1="17.60" x2="96.40" y2="21.40" stroke="#000" stroke-width="1.00"/>
<line x1="96.40" y1="317.20" x2="96.40" y2="313.20" stroke="#000" stroke-width="1.00"/>
<line x1="96.40" y1="317.20" x2="96.40" y2="320.20" stroke="#000" stroke-width="1.00"/>
<line x1="96.40" y1="477.75" x2="96.40" y2="476.15" stroke="#000" stroke-width="1.00"/>
<line x1="107.60" y1="17.60" x2="107.60" y2="19.80" stroke="#000" stroke-width="1.00"/>
<line x1="107.60" y1="317.20" x2="107.60" y2="315.00" stroke="#000" stroke-width="1.00"/>
<line x1="107.60" y1="317.20" x2="107.60" y2="319.20" stroke="#000" stroke-width="1.00"/>
<line x1="107.60" y1="477.75" x2="107.60" y2="476.15" stroke="#000" stroke-width="1.00"/>
<line x1="118.80" y1="17.60" x2="118.80" y2="21.40" stroke="#000" stroke-width="1.00"/>
<line x1="118.80" y1="317.20" x2="118.80" y2="313.20" stroke="#000" stroke-width="1.00"/>
<line x1="118.80" y1="317.20" x2="118.80" y2="320.20" stroke="#000" stroke-width="1.00"/>
<line x1="118.80" y1="477.75" x2="118.80" y2="476.15" stroke="#000" stroke-width="1.00"/>
<line x1="130.00" y1="17.60" x2="130.00" y2="19.80" stroke="#000" stroke-width="1.00"/>
<line x1="130.00" y1="317.20" x2="130.00" y2="315.00" stroke="#000" stroke-width="1.00"/>
<line x1="130.00" y1="317.20" x2="130.00" y2="319.20" stroke="#000" stroke-width="1.00"/>
<line x1="130.00" y1="477.75" x2="130.00" y2="476.15" stroke="#000" stroke-width="1.00"/>
<line x1="141.20" y1="17.60" x2="141.20" y2="21.40" stroke="#000" stroke-width="1.00"/>
<line x1="141.20" y1="317.20" x2="141.20" y2="313.20" stroke="#000" stroke-width="1.00"/>
<line x1="141.20" y1="317.20" x2="141.20" y2="320.20" stroke="#000" stroke-width="1.00"/>
<line x1="141.20" y1="477.75" x2="141.20" y2="476.15" stroke="#000" stroke-width="1.00"/>
<line x1="152.40" y1="17.60" x2="152.40" y2="19.80" stroke="#000" stroke-width="1.00"/>
<line x1="152.40" y1="317.20" x2="152.40" y2="315.00" stroke="#000" stroke-width="1.00"/>
<line x1="152.40" y1="317.20" x2="152.40" y2="319.20" stroke="#000" stroke-width="1.00"/>
<line x1="152.40" y1="477.75" x2="152.40" y2="476.15" stroke="#000" stroke-width="1.00"/>
<line x1="163.60" y1="17.60" x2="163.60" y2="25.20" stroke="#000" stroke-width="1.00"/>
<line x1="163.60" y1="317.20" x2="163.60" y2="310.20" stroke="#000" stroke-width="1.00"/>
<line x1="163.60" y1="317.20" x2="163.60" y2="321.90" stroke="#000" stroke-width="1.00"/>
<line x1="163.60" y1="477.75" x2="163.60" y2="472.75" stroke="#000" stroke-width="1.00"/>
<line x1="174.80" y1="17.60" x2="174.80" y2="19.80" stroke="#000" stroke-width="1.00"/>
<line x1="174.80" y1="317.20" x2="174.80" y2="315.00" stroke="#000" stroke-width="1.00"/>
<line x1="174.80" y1="317.20" x2="174.80" y2="319.20" stroke="#000" stroke-width="1.00"/>
<line x1="174.80" y1="477.75" x2="174.80" y2="476.15" stroke="#000" stroke-width="1.00"/>
<line x1="186.00" y1="17.60" x2="186.00" y2="21.40" stroke="#000" stroke-width="1.00"/>
<line x1="186.00" y1="317.20" x2="186.00" y2="313.20" stroke="#000" stroke-width="1.00"/>
<line x1="186.00" y1="317.20" x2="186.00" y2="320.20" stroke="#000" stroke-width="1.00"/>
<line x1="186.00" y1="477.75" x2="186.00" y2="476.15" stroke="#000" stroke-width="1.00"/>
<line x1="197.20" y1="17.60" x2="197.20" y2="19.80" stroke="#000" stroke-width="1.00"/>
<line x1="197.20" y1="317.20" x2="197.20" y2="315.00" stroke="#000" stroke-width="1.00"/>
<line x1="197.20" y1="317.20" x2="197.20" y2="319.20" stroke="#000" stroke-width="1.00"/>
<line x1="197.20" y1="477.75" x2="197.20" y2="476.15" stroke="#000" stroke-width="1.00"/>
<line x1="208.40" y1="17.60" x2="208.40" y2="21.40" stroke="#000" stroke-width="1.00"/>
<line x1="208.40" y1="317.20" x2="208.40" y2="313.20" stroke="#000" stroke-width="1.00"/>
<line x1="208.40" y1="317.20" x2="208.40" y2="320.20" stroke="#000" stroke-width="1.00"/>
<line x1="208.40" y1="477.75" x2="208.40" y2="476.15" stroke="#000" stroke-width="1.00"/>
<line x1="219.60" y1="17.60" x2="219.60" y2="19.80" stroke="#000" stroke-width="1.00"/>
<line x1="219.60" y1="317.20" x2="219.60" y2="315.00" stroke="#000" stroke-width="1.00"/>
<line x1="219.60" y1="317.20" x2="219.60" y2="319.20" stroke="#000" stroke-width="1.00"/>
<line x1="219.60" y1="477.75" x2="219.60" y2="476.15" stroke="#000" stroke-width="1.00"/>
<line x1="230.80" y1="17.60" x2="230.80" y2="21.40" stroke="#000" stroke-width="1.00"/>
<line x1="230.80" y1="317.20" x2="230.80" y2="313.20" stroke="#000" stroke-width="1.00"/>
<line x1="230.80" y1="317.20" x2="230.80" y2="320.20" stroke="#000" stroke-width="1.00"/>
<line x1="230.80" y1="477.75" x2="230.80" y2="476.15" stroke="#000" stroke-width="1.00"/>
<line x1="242.00" y1="17.60" x2="242.00" y2="19.80" stroke="#000" stroke-width="1.00"/>
<line x1="242.00" y1="317.20" x2="242.00" y2="315.00" stroke="#000" stroke-width="1.00"/>
<line x1="242.00" y1="317.20" x2="242.00" y2="319.20" stroke="#000" stroke-width="1.00"/>
<line x1="242.00" y1="477.75" x2="242.00" y2="476.15" stroke="#000" stroke-width="1.00"/>
<line x1="253.20" y1="17.60" x2="253.20" y2="21.40" stroke="#000" stroke-width="1.00"/>
<line x1="253.20" y1="317.20" x2="253.20" y2="313.20" stroke="#000" stroke-width="1.00"/>
<line x1="253.20" y1="317.20" x2="253.20" y2="320.20" stroke="#000" stroke-width="1.00"/>
<line x1="253.20" y1="477.75" x2="253.20" y2="476.15" stroke="#000" stroke-width="1.00"/>
<line x1="264.40" y1="17.60" x2="264.40" y2="19.80" stroke="#000" stroke-width="1.00"/>
<line x1="264.40" y1="317.20" x2="264.40" y2="315.00" stroke="#000" stroke-width="1.00"/>
<line x1="264.40" y1="317.20" x2="264.40" y2="319.20" stroke="#000" stroke-width="1.00"/>
<line x1="264.40" y1="477.75" x2="264.40" y2="476.15" stroke="#000" stroke-width="1.00"/>
<line x1="275.60" y1="17.60" x2="275.60" y2="25.20" stroke="#000" stroke-width="1.00"/>
<line x1="275.60" y1="317.20" x2="275.60" y2="310.20" stroke="#000" stroke-width="1.00"/>
<line x1="275.60" y1="317.20" x2="275.60" y2="321.90" stroke="#000" stroke-width="1.00"/>
<line x1="275.60" y1="477.75" x2="275.60" y2="472.75" stroke="#000" stroke-width="1.00"/>
<line x1="286.80" y1="17.60" x2="286.80" y2="19.80" stroke="#000" stroke-width="1.00"/>
<line x1="286.80" y1="317.20" x2="286.80" y2="315.00" stroke="#000" stroke-width="1.00"/>
<line x1="286.80" y1="317.20" x2="286.80" y2="319.20" stroke="#000" stroke-width="1.00"/>
<line x1="286.80" y1="477.75" x2="286.80" y2="476.15" stroke="#000" stroke-width="1.00"/>
<line x1="298.00" y1="17.60" x2="298.00" y2="21.40" stroke="#000" stroke-width="1.00"/>
<line x1="298.00" y1="317.20" x2="298.00" y2="313.20" stroke="#000" stroke-width="1.00"/>
<line x1="298.00" y1="317.20" x2="298.00" y2="320.20" stroke="#000" stroke-width="1.00"/>
<line x1="298.00" y1="477.75" x2="298.00" y2="476.15" stroke="#000" stroke-width="1.00"/>
<line x1="309.20" y1="17.60" x2="309.20" y2="19.80" stroke="#000" stroke-width="1.00"/>
<line x1="309.20" y1="317.20" x2="309.20" y2="315.00" stroke="#000" stroke-width="1.00"/>
<line x1="309.20" y1="317.20" x2="309.20" y2="319.20" stroke="#000" stroke-width="1.00"/>
<line x1="309.20" y1="477.75" x2="309.20" y2="476.15" stroke="#000" stroke-width="1.00"/>
<line x1="320.40" y1="17.60" x2="320.40" y2="21.40" stroke="#000" stroke-width="1.00"/>
<line x1="320.40" y1="317.20" x2="320.40" y2="313.20" stroke="#000" stroke-width="1.00"/>
<line x1="320.40" y1="317.20" x2="320.40" y2="320.20" stroke="#000" stroke-width="1.00"/>
<line x1="320.40" y1="477.75" x2="320.40" y2="476.15" stroke="#000" stroke-width="1.00"/>
<line x1="331.60" y1="17.60" x2="331.60" y2="19.80" stroke="#000" stroke-width="1.00"/>
<line x1="331.60" y1="317.20" x2="331.60" y2="315.00" stroke="#000" stroke-width="1.00"/>
<line x1="331.60" y1="317.20" x2="331.60" y2="319.20" stroke="#000" stroke-width="1.00"/>
<line x1="331.60" y1="477.75" x2="331.60" y2="476.15" stroke="#000" stroke-width="1.00"/>
<line x1="342.80" y1="17.60" x2="342.80" y2="21.40" stroke="#000" stroke-width="1.00"/>
<line x1="342.80" y1="317.20" x2="342.80" y2="313.20" stroke="#000" stroke-width="1.00"/>
<line x1="342.80" y1="317.20" x2="342.80" y2="320.20" stroke="#000" stroke-width="1.00"/>
<line x1="342.80" y1="477.75" x2="342.80" y2="476.15" stroke="#000" stroke-width="1.00"/>
<line x1="354.00" y1="17.60" x2="354.00" y2="19.80" stroke="#000" stroke-width="1.00"/>
<line x1="354.00" y1="317.20" x2="354.00" y2="315.00" stroke="#000" stroke-width="1.00"/>
<line x1="354.00" y1="317.20" x2="354.00" y2="319.20" stroke="#000" stroke-width="1.00"/>
<line x1="354.00" y1="477.75" x2="354.00" y2="476.15" stroke="#000" stroke-width="1.00"/>
<line x1="365.20" y1="17.60" x2="365.20" y2="21.40" stroke="#000" stroke-width="1.00"/>
<line x1="365.20" y1="317.20" x2="365.20" y2="313.20" stroke="#000" stroke-width="1.00"/>
<line x1="365.20" y1="317.20" x2="365.20" y2="320.20" stroke="#000" stroke-width="1.00"/>
<line x1="365.20" y1="477.75" x2="365.20" y2="476.15" stroke="#000" stroke-width="1.00"/>
<line x1="45.50" y1="17.60" x2="371.20" y2="17.60" stroke="#000" stroke-width="1.20" stroke-linecap="square"/>
<line x1="45.50" y1="317.20" x2="371.20" y2="317.20" stroke="#000" stroke-width="1.25" stroke-linecap="square"/>
<line x1="45.50" y1="477.75" x2="371.20" y2="477.75" stroke="#000" stroke-width="1.50" stroke-linecap="square"/>
<line x1="45.50" y1="17.60" x2="45.50" y2="477.75" stroke="#000" stroke-width="1.20" stroke-linecap="square"/>
<line x1="371.20" y1="17.60" x2="371.20" y2="477.75" stroke="#000" stroke-width="1.20" stroke-linecap="square"/>
<rect x="73.70" y="230.90" width="5.60" height="5.60" fill="#000"/>
<line x1="64.10" y1="246.80" x2="89.00" y2="246.80" stroke="#35952a" stroke-width="1.0" stroke-dasharray="2.6,1.8"/>
<rect x="73.70" y="244.00" width="5.60" height="5.60" fill="none" stroke="#35952a" stroke-width="1.35"/>
<line x1="64.10" y1="259.80" x2="89.00" y2="259.80" stroke="#0000ff" stroke-width="1.2"/>
<path d="M76.50 256.66L79.60 262.37L73.40 262.37Z" fill="#0000ff"/>
<line x1="64.10" y1="272.70" x2="89.00" y2="272.70" stroke="#ff0000" stroke-width="1.1" stroke-dasharray="1.2,1.0"/>
<path d="M76.50 269.40L79.00 272.70L76.50 276.00L74.00 272.70Z" fill="#ff0000"/>
<text x="94.04" y="236.60" font-size="9.00" fill="#000" textLength="20.29" lengthAdjust="spacingAndGlyphs" xml:space="preserve">CMS</text>
<text x="94.05" y="249.70" font-size="9.00" fill="#000" textLength="83.03" lengthAdjust="spacingAndGlyphs" xml:space="preserve">Herwig 7.2.1 default</text>
<text x="94.05" y="262.70" font-size="9.00" fill="#000" textLength="83.05" lengthAdjust="spacingAndGlyphs" xml:space="preserve">Pythia 8.315 default</text>
<text x="94.38" y="275.70" font-size="9.00" fill="#000" textLength="83.99" lengthAdjust="spacingAndGlyphs" xml:space="preserve">Sherpa 2.2.9 default</text>
<text x="51.30" y="13.80" font-size="12.00" fill="#000" textLength="70.46" lengthAdjust="spacingAndGlyphs" xml:space="preserve">7000 GeV pp</text>
<text x="343.02" y="13.80" font-size="12.00" fill="#000" textLength="21.78" lengthAdjust="spacingAndGlyphs" xml:space="preserve">Jets</text>
<text x="75.96" y="41.60" font-size="11.80" fill="#000" textLength="38.01" lengthAdjust="spacingAndGlyphs" xml:space="preserve">Pruned</text>
<text x="117.60" y="41.60" font-size="11.80" fill="#000" textLength="21.57" lengthAdjust="spacingAndGlyphs" xml:space="preserve">AK7</text>
<text x="144.00" y="41.60" font-size="11.80" fill="#000" textLength="32.80" lengthAdjust="spacingAndGlyphs" xml:space="preserve">dijets,</text>
<text x="178.80" y="41.60" font-size="11.80" fill="#000" textLength="10.36" lengthAdjust="spacingAndGlyphs" xml:space="preserve">(p</text>
<text x="196.90" y="41.60" font-size="11.80" fill="#000">+</text>
<text x="207.48" y="41.60" font-size="11.80" fill="#000">p</text>
<text x="219.08" y="41.60" font-size="11.80" fill="#000">)</text>
<text x="225.40" y="41.60" font-size="11.80" fill="#000">/</text>
<text x="233.18" y="41.60" font-size="11.80" fill="#000">2</text>
<text x="243.05" y="41.60" font-size="11.80" fill="#000">=</text>
<text x="253.93" y="41.60" font-size="11.80" fill="#000" textLength="25.67" lengthAdjust="spacingAndGlyphs" xml:space="preserve">1000</text>
<text x="280.16" y="41.60" font-size="11.80" fill="#000" textLength="9.53" lengthAdjust="spacingAndGlyphs" xml:space="preserve">--</text>
<text x="289.92" y="41.60" font-size="11.80" fill="#000" textLength="26.09" lengthAdjust="spacingAndGlyphs" xml:space="preserve">1500</text>
<text x="318.28" y="41.60" font-size="11.80" fill="#000" textLength="24.69" lengthAdjust="spacingAndGlyphs" xml:space="preserve">GeV</text>
<text x="188.93" y="37.10" font-size="7.60" fill="#000">1</text>
<text x="189.18" y="48.40" font-size="7.60" fill="#000">T</text>
<text x="213.84" y="37.10" font-size="7.60" fill="#000">2</text>
<text x="214.13" y="48.40" font-size="7.60" fill="#000">T</text>
<text x="166.73" y="302.00" font-size="7.60" fill="#a0a0a0" textLength="82.06" lengthAdjust="spacingAndGlyphs" xml:space="preserve">(CMS_2013_I1224539)</text>
<text x="250.55" y="506.30" font-size="12.00" fill="#000" textLength="124.34" lengthAdjust="spacingAndGlyphs" xml:space="preserve">(m_1 + m_2) / 2 [GeV]</text>
<text x="47.74" y="489.00" font-size="12.00" fill="#000">0</text>
<text x="154.46" y="489.00" font-size="12.00" fill="#000" textLength="18.67" lengthAdjust="spacingAndGlyphs" xml:space="preserve">100</text>
<text x="266.24" y="489.00" font-size="12.00" fill="#000" textLength="18.69" lengthAdjust="spacingAndGlyphs" xml:space="preserve">200</text>
<text x="23.31" y="64.70" font-size="11.20" fill="#000" textLength="11.68" lengthAdjust="spacingAndGlyphs" xml:space="preserve">10</text>
<text x="34.68" y="60.00" font-size="8.00" fill="#000">2</text>
<text x="27.41" y="141.70" font-size="11.20" fill="#000" textLength="13.24" lengthAdjust="spacingAndGlyphs" xml:space="preserve">10</text>
<text x="34.38" y="218.50" font-size="11.00" fill="#000">1</text>
<text x="21.66" y="297.50" font-size="11.20" fill="#000" textLength="10.90" lengthAdjust="spacingAndGlyphs" xml:space="preserve">10</text>
<text x="33.19" y="292.50" font-size="8.00" fill="#000" textLength="6.98" lengthAdjust="spacingAndGlyphs" xml:space="preserve">−1</text>
<text x="32.04" y="340.70" font-size="11.20" fill="#000">2</text>
<text x="32.72" y="401.60" font-size="11.20" fill="#000">1</text>
<text x="22.13" y="461.60" font-size="11.20" fill="#000" textLength="16.24" lengthAdjust="spacingAndGlyphs" xml:space="preserve">0.5</text>
<text x="373.94" y="340.50" font-size="11.20" fill="#000">2</text>
<text x="373.57" y="401.60" font-size="11.20" fill="#000">1</text>
<text x="373.93" y="461.70" font-size="11.20" fill="#000" textLength="16.34" lengthAdjust="spacingAndGlyphs" xml:space="preserve">0.5</text>
<text transform="translate(16.00,209.31) rotate(-90)" font-size="12.20" fill="#000" textLength="37.83" lengthAdjust="spacingAndGlyphs" xml:space="preserve">1000/σ</text>
<text transform="translate(16.00,162.51) rotate(-90)" font-size="12.20" fill="#000" textLength="148.47" lengthAdjust="spacingAndGlyphs" xml:space="preserve">2dσ)/d(m_1 + m_2) [1/GeV]</text>
<text transform="translate(18.10,424.33) rotate(-90)" font-size="9.40" fill="#000" textLength="54.36" lengthAdjust="spacingAndGlyphs" xml:space="preserve">Ratio to CMS</text>
<text transform="translate(379.80,127.35) rotate(-90)" font-size="9.00" fill="#5a5a5a" textLength="108.98" lengthAdjust="spacingAndGlyphs" xml:space="preserve">Rivet 4.1.0, ≥ 3.4M events</text>
<text transform="translate(380.60,313.91) rotate(-90)" font-size="9.00" fill="#5a5a5a" textLength="147.48" lengthAdjust="spacingAndGlyphs" xml:space="preserve">mcplots.cern.ch [arXiv:2401.10621]</text>
</svg></body></html>
